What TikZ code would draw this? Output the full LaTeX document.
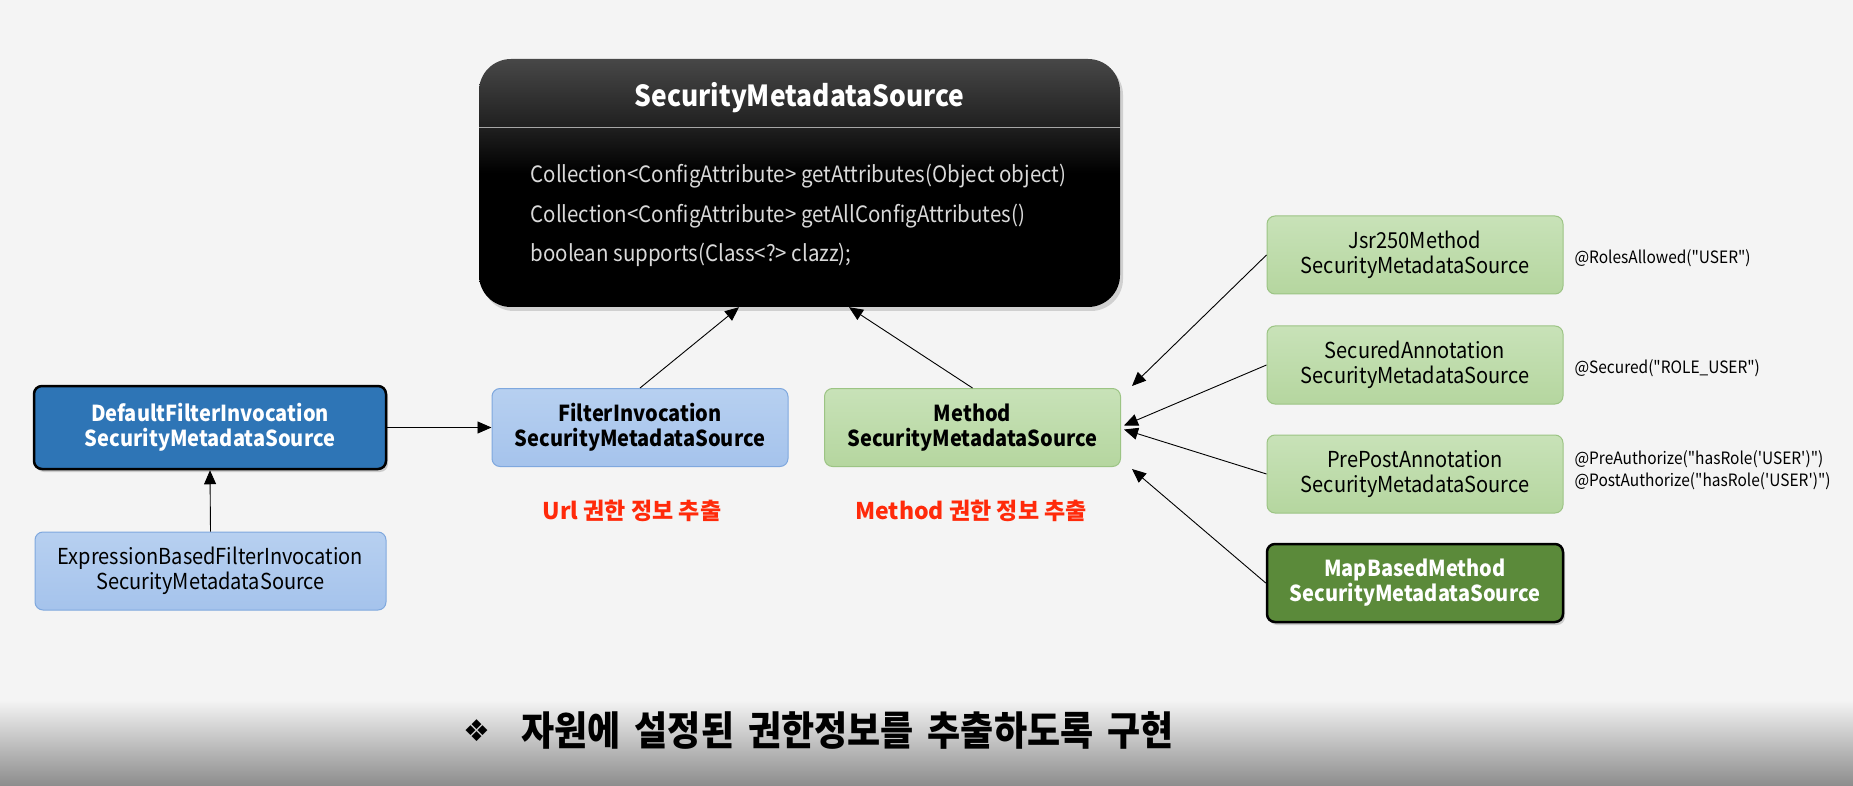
\documentclass[tikz,border=0pt]{standalone}
\usepackage{fontspec}
\setmainfont{Noto Sans CJK KR}[FakeStretch=0.91]
\newfontfamily\plainfont{Noto Sans CJK KR}[FakeStretch=0.91]
\newfontfamily\redfont{Noto Sans CJK KR}
\newfontfamily\capfont{Noto Sans CJK KR}[FakeStretch=0.9]
\newfontfamily\dejavu{DejaVu Sans}
\usetikzlibrary{arrows.meta,shadows,calc}
\definecolor{bgc}{HTML}{F4F4F4}
\definecolor{dblue}{HTML}{2E75B6}
\definecolor{lbluetop}{HTML}{B7D0F0}
\definecolor{lbluebot}{HTML}{A5C3EC}
\definecolor{lblueline}{HTML}{7FA8DE}
\definecolor{lgreentop}{HTML}{C8E2B8}
\definecolor{lgreenbot}{HTML}{B5D69F}
\definecolor{lgreenline}{HTML}{9CC484}
\definecolor{dgreen}{HTML}{5B8A3A}
\definecolor{redlbl}{HTML}{FF2A0A}
\definecolor{bodytxt}{HTML}{D9D9D9}
\pgfdeclareverticalshading{topboxshade}{100bp}{color(0bp)=(black); color(25bp)=(black); color(52bp)=(black); color(61bp)=(black!88); color(75bp)=(black!72); color(100bp)=(black!72)}
\begin{document}
\begin{tikzpicture}[x=1pt,y=-1pt,
  box/.style={rounded corners=8pt, minimum width=296pt, minimum height=78pt, align=center, inner sep=0pt, font=\fontsize{22}{25}\selectfont},
  lblue/.style={box, draw=lblueline, line width=1pt, top color=lbluetop, bottom color=lbluebot},
  lgreen/.style={box, draw=lgreenline, line width=1pt, top color=lgreentop, bottom color=lgreenbot},
  dark/.style={box, draw=black, line width=2.5pt, text=white, font=\fontsize{22}{25}\selectfont\bfseries, drop shadow={shadow xshift=2pt, shadow yshift=-3pt, opacity=0.35}},
  arr/.style={draw=black, line width=0.9pt, -{Triangle[length=14pt,width=12pt]}},
  redtxt/.style={text=redlbl, font=\redfont\fontsize{23}{26}\selectfont\bfseries},
  anno/.style={anchor=west, align=left, font=\plainfont\fontsize{17}{22}\selectfont}
]
\useasboundingbox (0,0) rectangle (1853,786);
\fill[bgc] (0,0) rectangle (1853,786);
\shade[top color=bgc, bottom color=black!45] (0,700) rectangle (1853,786);

% top interface box
\node[rounded corners=32pt, minimum width=641pt, minimum height=248pt, inner sep=0pt, shading=topboxshade, drop shadow={shadow xshift=3pt, shadow yshift=-4pt, opacity=0.3}] (top) at (799.5,183) {};
\draw[black!35, line width=0.8pt] ($(top.north west)+(0,69)$) -- ($(top.north east)+(0,69)$);
\node[text=white, font=\fontsize{29}{34}\selectfont\bfseries] (title) at (799.5,98) {SecurityMetadataSource};
\node[text=bodytxt, anchor=west, font=\fontsize{22.5}{24}\selectfont] (m1) at (527,176) {Collection<ConfigAttribute> getAttributes(Object object)};
\node[text=bodytxt, anchor=west, font=\fontsize{22.5}{24}\selectfont] (m2) at (527,216) {Collection<ConfigAttribute> getAllConfigAttributes()};
\node[text=bodytxt, anchor=west, font=\fontsize{22.5}{24}\selectfont] (m3) at (527,255) {boolean supports(Class<?> clazz);};

% left side
\node[dark, fill=dblue, minimum width=352pt, minimum height=83pt] (df) at (210,427.5) {DefaultFilterInvocation\\SecurityMetadataSource};
\node[lblue, minimum width=351pt] (ex) at (210.5,571) {ExpressionBasedFilterInvocation\\SecurityMetadataSource};
\node[lblue, font=\fontsize{22}{25}\selectfont\bfseries] (fi) at (640,427.5) {FilterInvocation\\SecurityMetadataSource};
\node[redtxt] (url) at (632,511) {Url 권한 정보 추출};

% method side
\node[lgreen, font=\fontsize{22}{25}\selectfont\bfseries] (mt) at (972.5,427.5) {Method\\SecurityMetadataSource};
\node[redtxt] (mlbl) at (971,511) {Method 권한 정보 추출};

\node[lgreen] (jsr) at (1415,255) {Jsr250Method\\SecurityMetadataSource};
\node[lgreen] (sec) at (1415,365) {SecuredAnnotation\\SecurityMetadataSource};
\node[lgreen] (pp) at (1415,474) {PrePostAnnotation\\SecurityMetadataSource};
\node[dark, fill=dgreen] (mb) at (1415,583) {MapBasedMethod\\SecurityMetadataSource};

\node[anno] (a1) at (1571,258) {@RolesAllowed("USER")};
\node[anno] (a2) at (1571,368) {@Secured("ROLE\_USER")};
\node[anno] (a3) at (1571,470) {@PreAuthorize("hasRole('USER')")\\@PostAuthorize("hasRole('USER')")};

% connectors
\draw[arr] (df.east) -- (fi.west);
\draw[arr] (ex.north) -- (df.south);
\draw[arr] (fi.north) -- ($(top.south)+(-60.5,0)$);
\draw[arr] (mt.north) -- ($(top.south)+(49.5,0)$);
\draw[arr] (jsr.west) -- ($(mt.north east)+(11,-2)$);
\draw[arr] (sec.west) -- ($(mt.east)+(3,-2)$);
\draw[arr] (pp.west) -- ($(mt.east)+(3,2)$);
\draw[arr] (mb.west) -- ($(mt.south east)+(11,2)$);

% bottom caption
\node[font=\fontsize{30}{34}\selectfont\dejavu] (dia) at (477,731) {❖};
\node[anchor=west, font=\capfont\fontsize{40}{44}\selectfont\bfseries] (cap) at (518,730) {자원에\hspace{14pt}설정된\hspace{14pt}권한정보를\hspace{14pt}추출하도록\hspace{14pt}구현};
\end{tikzpicture}
\end{document}
